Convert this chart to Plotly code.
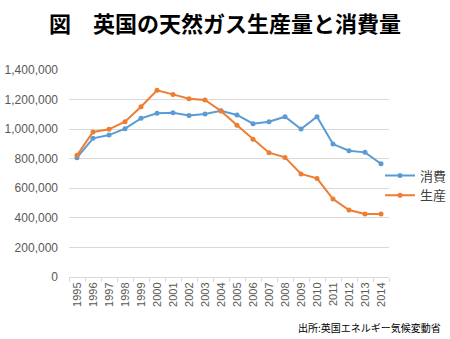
import plotly.graph_objects as go

years = [str(y) for y in range(1995, 2015)]
consumption = [807000, 938000, 960000, 1003000, 1073000, 1107000, 1111000, 1093000, 1102000, 1125000,
               1096000, 1037000, 1050000, 1084000, 1001000, 1084000, 899000, 854000, 843000, 766000]
production = [823000, 981000, 999000, 1050000, 1152000, 1263000, 1235000, 1206000, 1197000, 1123000,
              1026000, 931000, 841000, 809000, 697000, 667000, 527000, 453000, 426000, 426000]
series_names = ["消費", "生産"]
colors = ["#5B9BD5", "#ED7D31"]
yticks = [0, 200000, 400000, 600000, 800000, 1000000, 1200000, 1400000]

font_jp = "Noto Sans CJK JP"

W, H = 450, 339
L, R, T, B = 69, 61, 70, 62
pw, ph = W - L - R, H - T - B

fig = go.Figure()
for name, vals, col in zip(series_names, [consumption, production], colors):
    fig.add_trace(go.Scatter(
        x=years, y=vals, name=name, mode="lines+markers",
        line=dict(color=col, width=2), marker=dict(color=col, size=5),
    ))

fig.update_layout(
    width=W, height=H,
    margin=dict(l=L, r=R, t=T, b=B, autoexpand=False),
    paper_bgcolor="white", plot_bgcolor="white",
    title=dict(text="<b>図　英国の天然ガス生産量と消費量</b>", x=0.5, xanchor="center",
               y=1 - 24 / H, yanchor="middle",
               font=dict(family=font_jp, size=22, color="black")),
    showlegend=True,
    legend=dict(x=(380 - L) / pw, xanchor="left", y=(277 - 185.5) / ph, yanchor="middle",
                font=dict(family=font_jp, size=13, color="#404040"),
                bgcolor="rgba(0,0,0,0)", tracegroupgap=0, itemwidth=30),
    xaxis=dict(type="category", tickangle=-90, showgrid=False,
               showline=True, linecolor="#D9D9D9", linewidth=1,
               ticks="outside", ticklen=4, tickcolor="#D9D9D9", tickson="boundaries",
               tickfont=dict(family="Liberation Sans", size=11, color="#595959"),
               range=[-0.5, 19.5]),
    yaxis=dict(range=[0, 1400000], tickvals=yticks, tickformat=",",
               showgrid=True, gridcolor="#D9D9D9", gridwidth=1, zeroline=False,
               showline=False, ticks="", ticklabelstandoff=10,
               tickfont=dict(family="Liberation Sans", size=12, color="#595959")),
    annotations=[dict(text="出所:英国エネルギー気候変動省", xref="paper", yref="paper",
                      x=(443 - L) / pw, xanchor="right", y=(277 - 327) / ph, yanchor="middle",
                      showarrow=False, font=dict(family=font_jp, size=10, color="black"))],
)
fig.write_html("out.html")
